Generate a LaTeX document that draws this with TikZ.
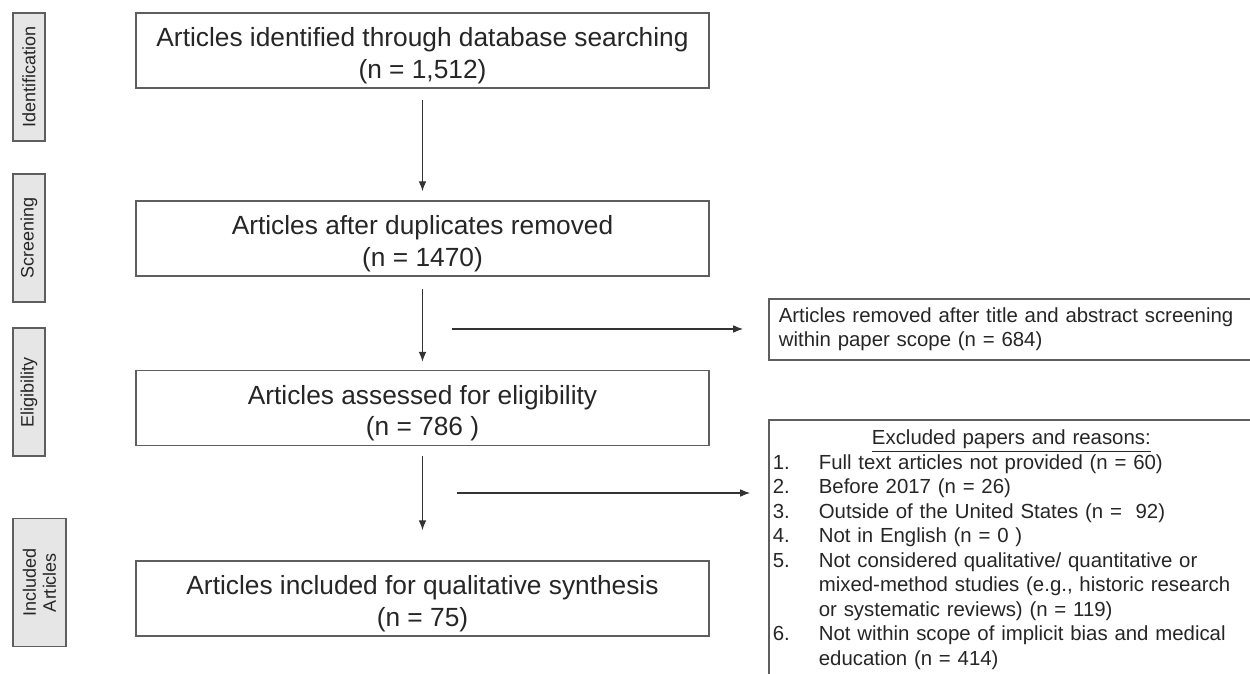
\documentclass[tikz,border=0pt]{standalone}
\usepackage{fontspec}
\setmainfont{Liberation Sans}
\usetikzlibrary{arrows.meta}
\definecolor{boxline}{HTML}{5E5E5E}
\definecolor{phasefill}{HTML}{E6E6E6}
\newcommand\lift{\rule{0pt}{21pt}}
\tikzset{
  stage/.style={draw=boxline, line width=1.2pt, minimum width=14.325cm, minimum height=1.875cm,
    inner sep=1pt, align=center, text=black!85, font=\fontsize{18.7}{22.6}\selectfont},
  phase/.style={draw=boxline, fill=phasefill, line width=1.2pt, rotate=90, minimum width=3.2cm,
    inner sep=0pt, align=center, text=black!85, font=\fontsize{12.8}{14.2}\selectfont},
  sidebox/.style={draw=boxline, line width=1.2pt, anchor=north west, align=left,
    text=black!85, font=\fontsize{14.5}{17.4}\selectfont},
  arr/.style={-{Latex[length=7pt,width=5.5pt]}, line width=0.8pt, draw=black!80}
}
\begin{document}
\begin{tikzpicture}[x=0.025cm, y=-0.025cm]
% frame
\clip (0,0) rectangle (1250,674);
\fill[white] (0,0) rectangle (1250,674);
% phase labels (name/x/y/height/text)
\foreach \n/\x/\y/\h/\txt in {
  ident/29/77/0.8/Identification,
  screen/29/238/0.8/Screening,
  elig/29/392/0.8/Eligibility,
  incl/39.5/582.5/1.325/{Included\\Articles}}
{
  \node[phase, minimum height=\h cm] (\n) at (\x,\y) {\txt};
}
% main stages
\node[stage] (found) at (422.5,50.5) {\lift Articles identified through database searching\\(n = 1,512)};
\node[stage] (dedup) at (422.5,238.5) {\lift Articles after duplicates removed\\(n = 1470)};
\node[stage] (assess) at (422.5,408) {\lift Articles assessed for eligibility\\(n = 786 )};
\node[stage] (final) at (422.5,598.5) {\lift Articles included for qualitative synthesis\\(n = 75)};
% side boxes
\node[sidebox, text width=11.625cm, inner xsep=0.25cm, minimum height=1.525cm] (removed) at (768,298)
  {Articles removed after title and abstract screening\\within paper scope (n = 684)};
\node[sidebox, text width=11.925cm, inner xsep=0.1cm, inner ysep=0.2cm] (excl) at (768,419) {%
  \begin{tabular}{@{}p{1.15cm}@{}p{10.775cm}@{}}
  \multicolumn{2}{@{}c@{}}{\underline{Excluded papers and reasons:}}\\
  1. & Full text articles not provided (n = 60)\\
  2. & Before 2017 (n = 26)\\
  3. & Outside of the United States (n = \ 92)\\
  4. & Not in English (n = 0 )\\
  5. & Not considered qualitative/ quantitative or\newline
       mixed-method studies (e.g., historic research\newline
       or systematic reviews) (n = 119)\\
  6. & Not within scope of implicit bias and medical\newline
       education (n = 414)
  \end{tabular}};
% arrows
\draw[arr, shorten <=0.275cm, shorten >=0.225cm] (found) -- (dedup);
\draw[arr, shorten <=0.3cm, shorten >=0.2cm] (dedup) -- (assess);
\draw[arr, shorten <=0.25cm, shorten >=0.75cm] (assess) -- (final);
\coordinate (cut1) at (452,329);
\coordinate (cut2) at (457,493);
\draw[arr, shorten >=0.625cm] (cut1) -- (cut1 -| removed.west);
\draw[arr, shorten >=0.45cm] (cut2) -- (cut2 -| excl.west);
\end{tikzpicture}
\end{document}
